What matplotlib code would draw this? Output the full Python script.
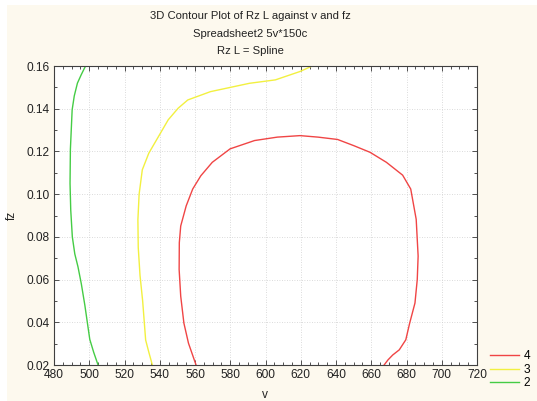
import matplotlib
matplotlib.use("Agg")
import matplotlib.pyplot as plt
from matplotlib.patches import Rectangle
from matplotlib.ticker import MultipleLocator, FormatStrFormatter

# Contour line of Rz L = 4 (loop opening onto fz = 0.02)
v_level4 = [560.6, 556.3, 553.7, 551.9, 551.0, 551.1, 551.9, 555.0, 558.7, 563.3,
            569.8, 579.9, 593.8, 606.7, 619.6, 629.8, 640.9, 650.1, 659.3, 668.6,
            677.8, 682.4, 685.5, 686.6, 686.1, 684.8, 681.8, 679.6, 675.9, 672.2,
            669.5, 667.3]
fz_level4 = [0.0200, 0.0302, 0.0396, 0.0522, 0.0647, 0.0773, 0.0851, 0.0945, 0.1024, 0.1086,
             0.1149, 0.1212, 0.1251, 0.1267, 0.1274, 0.1267, 0.1256, 0.1227, 0.1196, 0.1149,
             0.1089, 0.1024, 0.0882, 0.0710, 0.0600, 0.0490, 0.0396, 0.0318, 0.0271, 0.0247,
             0.0224, 0.0200]

# Contour line of Rz L = 3
v_level3 = [626.5, 619.5, 605.6, 590.9, 568.8, 555.9, 550.4, 544.8, 539.3, 533.8,
            530.1, 528.3, 527.6, 527.8, 528.8, 530.3, 532.0, 533.8, 535.8]
fz_level3 = [0.1600, 0.1574, 0.1535, 0.1519, 0.1480, 0.1441, 0.1402, 0.1348, 0.1270, 0.1192,
             0.1114, 0.1000, 0.0880, 0.0750, 0.0620, 0.0500, 0.0317, 0.0260, 0.0200]

# Contour line of Rz L = 2
v_level2 = [497.9, 495.5, 493.3, 491.5, 490.3, 489.3, 489.1, 489.5, 490.4, 491.8,
            493.6, 495.5, 497.5, 500.3, 502.5, 505.0]
fz_level2 = [0.1600, 0.1560, 0.1520, 0.1460, 0.1395, 0.1210, 0.1050, 0.0925, 0.0800, 0.0720,
             0.0660, 0.0580, 0.0480, 0.0320, 0.0260, 0.0200]

level_labels = ["4", "3", "2"]
level_colors = ["#f04545", "#f2f040", "#45cc45"]

title_lines = ["3D Contour Plot of Rz L against v and fz",
               "Spreadsheet2 5v*150c",
               "Rz L = Spline"]

W, H = 537, 401
plt.rcParams["font.family"] = ["Liberation Sans", "DejaVu Sans"]
fig = plt.figure(figsize=(W / 100, H / 100), dpi=100, facecolor="white")
fig.patches.append(Rectangle((7 / W, 0), 1 - 7 / W, 1 - 5 / H, transform=fig.transFigure,
                             facecolor="#fdf9ee", edgecolor="none", zorder=-10))

ax = fig.add_axes([54 / W, 1 - 365 / H, (477 - 54) / W, (365 - 66) / H])
ax.set_facecolor("white")

series = [(v_level4, fz_level4), (v_level3, fz_level3), (v_level2, fz_level2)]
handles = []
for (vv, ff), lab, col in zip(series, level_labels, level_colors):
    h, = ax.plot(vv, ff, color=col, lw=1.0, label=lab, solid_joinstyle="round")
    handles.append(h)

ax.set_xlim(480, 720)
ax.set_ylim(0.02, 0.16)
ax.xaxis.set_major_locator(MultipleLocator(20))
ax.xaxis.set_minor_locator(MultipleLocator(5))
ax.yaxis.set_major_locator(MultipleLocator(0.02))
ax.yaxis.set_minor_locator(MultipleLocator(0.01))
ax.yaxis.set_major_formatter(FormatStrFormatter("%.2f"))
ax.tick_params(which="both", direction="in", top=True, right=True, colors="#505050",
               labelcolor="#222222", labelsize=8.6, width=0.7)
ax.tick_params(which="major", length=3.5, pad=3)
ax.tick_params(which="minor", length=2.5)
ax.grid(True, which="major", color="#cfcfcf", lw=0.6, ls=(0, (1, 2)))
for s in ax.spines.values():
    s.set_color("#404040")
    s.set_linewidth(0.8)

for t, y in zip(title_lines, [16, 34, 51]):
    fig.text(250 / W, 1 - y / H, t, ha="center", va="center", fontsize=8.1, color="#222222")

fig.text(265 / W, 1 - 395 / H, "v", ha="center", va="center", fontsize=8.6, color="#222222")
fig.text(12 / W, 1 - 215 / H, "fz", ha="center", va="center", rotation=90,
         fontsize=8.6, color="#222222")

fig.legend(handles=handles, labels=level_labels, loc="upper left",
           bbox_to_anchor=(482 / W, 1 - 342 / H), frameon=False, fontsize=8.6,
           handlelength=2.4, handletextpad=0.4, labelspacing=0.12, borderpad=0.2)

fig.savefig("out.png", dpi=100, facecolor=fig.get_facecolor())
